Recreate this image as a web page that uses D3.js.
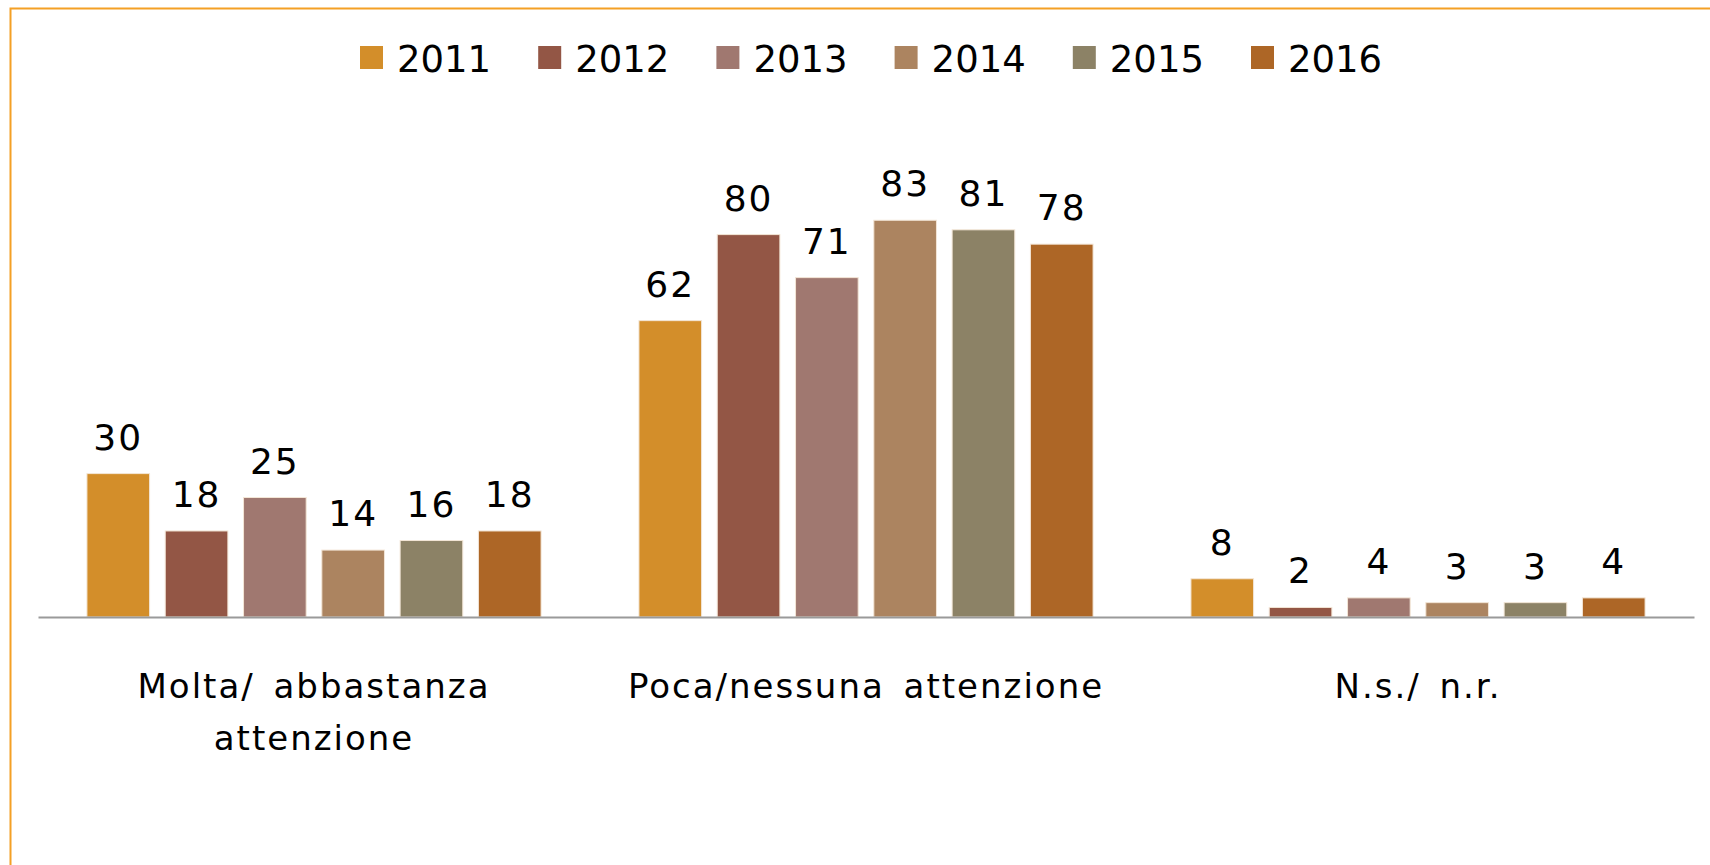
<!doctype html>
<html>
<head>
<meta charset="utf-8">
<style>
    body { margin: 0; background: #fff; }
    text { font-family: "DejaVu Sans", sans-serif; fill: #000; }
</style>
<script src="https://d3js.org/d3.v7.min.js"></script>
</head>
<body>
<svg width="1710" height="865"></svg>
<script>
var categories = ["Molta/ abbastanza\nattenzione", "Poca/nessuna attenzione", "N.s./ n.r."];
var years = ["2011", "2012", "2013", "2014", "2015", "2016"];
var v2011 = [30, 62, 8];
var v2012 = [18, 80, 2];
var v2013 = [25, 71, 4];
var v2014 = [14, 83, 3];
var v2015 = [16, 81, 3];
var v2016 = [18, 78, 4];
var colors = ["#d38e2a", "#935645", "#a07870", "#ac8460", "#8c8266", "#ad6626"];

var series = [v2011, v2012, v2013, v2014, v2015, v2016];

var svg = d3.select("svg");

// orange frame
svg.append("rect")
   .attr("x", 10.5).attr("y", 8.5)
   .attr("width", 1800).attr("height", 1000)
   .attr("fill", "none")
   .attr("stroke", "#f4a025")
   .attr("stroke-width", 2);

var x0 = d3.scaleBand().domain(categories).range([38, 1694]);
var x1 = d3.scaleBand().domain(years).range([0, x0.bandwidth()])
           .paddingInner(0.2).paddingOuter(0.625);
var y = d3.scaleLinear().domain([0, 100]).range([617, 139]);
var color = d3.scaleOrdinal().domain(years).range(colors);

var groups = svg.selectAll(".grp")
    .data(categories)
    .enter().append("g")
    .attr("class", "grp")
    .attr("transform", function(d) { return "translate(" + x0(d) + ",0)"; });

var cells = groups.selectAll(".cell")
    .data(function(c, ci) {
        return years.map(function(yr, yi) { return {year: yr, value: series[yi][ci]}; });
    })
    .enter().append("g");

cells.append("rect")
    .attr("x", function(d) { return x1(d.year); })
    .attr("y", function(d) { return y(d.value); })
    .attr("width", x1.bandwidth())
    .attr("height", function(d) { return y(0) - y(d.value); })
    .attr("fill", function(d) { return color(d.year); })
    .attr("stroke", "#f3e6d6")
    .attr("stroke-width", 1);

cells.append("text")
    .attr("x", function(d) { return x1(d.year) + x1.bandwidth() / 2; })
    .attr("y", function(d) { return y(d.value) - 24; })
    .attr("text-anchor", "middle")
    .attr("font-size", "36px")
    .attr("letter-spacing", "2px")
    .text(function(d) { return d.value; });

// baseline axis
var axis = svg.append("g")
    .attr("transform", "translate(0," + y(0) + ")")
    .call(d3.axisBottom(x0).tickSize(0).tickFormat(""));
axis.select(".domain").attr("stroke", "#9a9a9a").attr("stroke-width", 2);

// category labels
var catLabels = svg.selectAll(".cat")
    .data(categories)
    .enter().append("text")
    .attr("class", "cat")
    .attr("text-anchor", "middle")
    .attr("font-size", "34px")
    .attr("letter-spacing", "2px")
    .attr("word-spacing", "6px")
    .attr("transform", function(d) { return "translate(" + (x0(d) + x0.bandwidth() / 2) + ",698)"; });

catLabels.selectAll("tspan")
    .data(function(d) { return d.split("\n"); })
    .enter().append("tspan")
    .attr("x", 0)
    .attr("dy", function(d, i) { return i === 0 ? 0 : 52; })
    .text(function(d) { return d; });

// legend
var legend = svg.selectAll(".leg")
    .data(years)
    .enter().append("g")
    .attr("class", "leg")
    .attr("transform", function(d, i) { return "translate(" + (360 + i * 178.2) + ",0)"; });

legend.append("rect")
    .attr("x", 0).attr("y", 46)
    .attr("width", 23).attr("height", 23)
    .attr("fill", function(d) { return color(d); });

legend.append("text")
    .attr("x", 37).attr("y", 72)
    .attr("font-size", "37px")
    .text(function(d) { return d; });
</script>
</body>
</html>
